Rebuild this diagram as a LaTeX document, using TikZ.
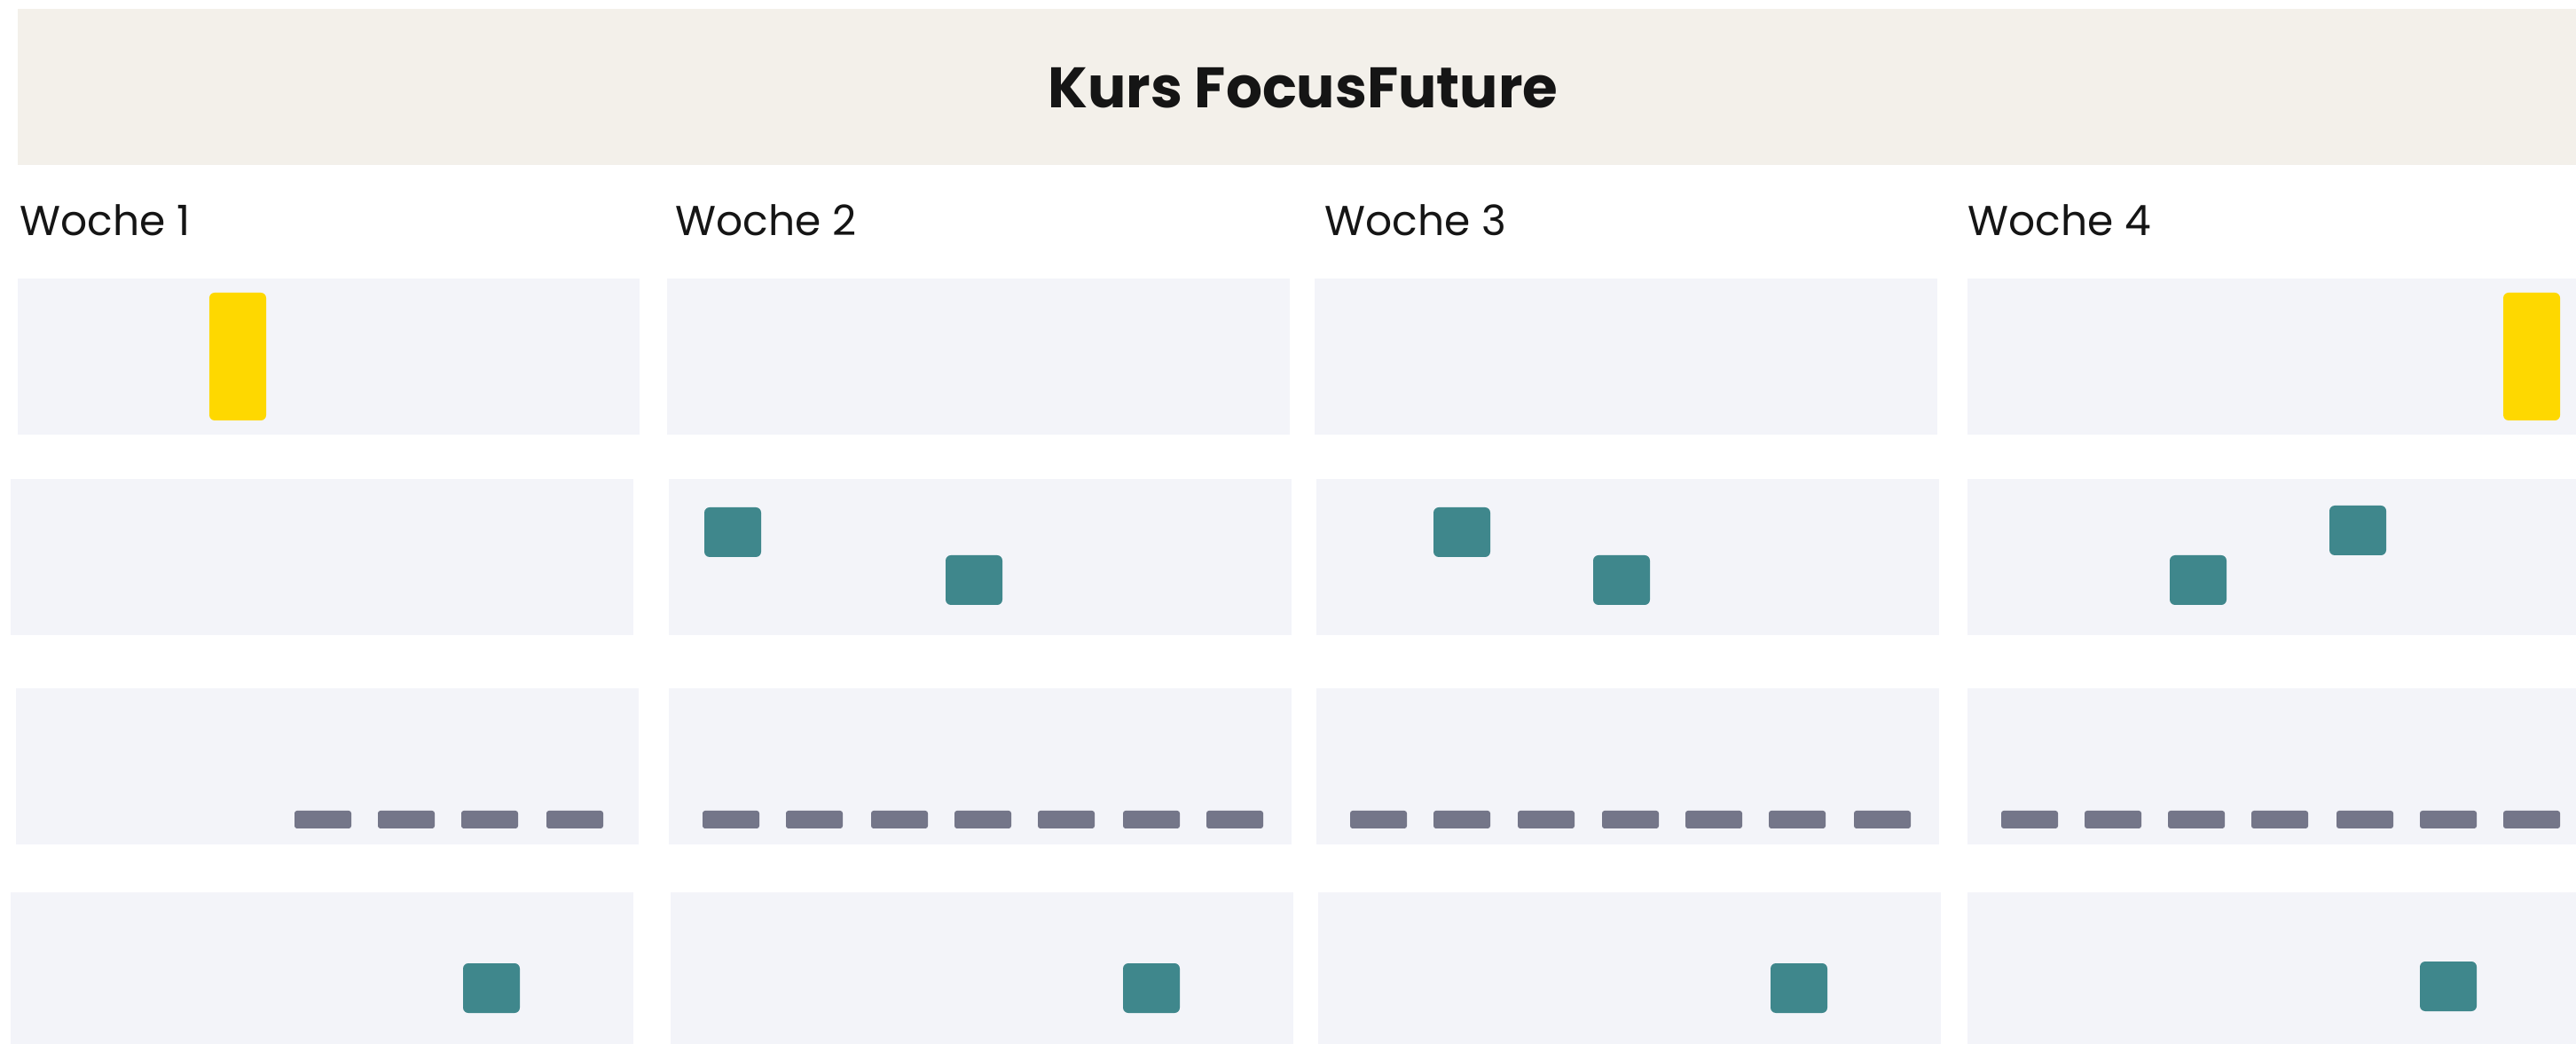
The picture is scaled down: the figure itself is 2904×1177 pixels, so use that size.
\documentclass[tikz,border=0pt]{standalone}
\usepackage{fontspec}
\setmainfont{Poppins}
\definecolor{hdr}{HTML}{F3F0EA}
\definecolor{pnl}{HTML}{F3F4F9}
\definecolor{tealc}{HTML}{3F878C}
\definecolor{dashc}{HTML}{747689}
\definecolor{yel}{HTML}{FED800}
\definecolor{txt}{HTML}{151515}
\begin{document}
\begin{tikzpicture}[x=0.01cm,y=-0.01cm,
 panel/.style={fill=pnl},
 tealblk/.style={fill=tealc,rounded corners=1.7pt},
 dashblk/.style={fill=dashc,rounded corners=0.8pt},
 yelblk/.style={fill=yel,rounded corners=1.7pt},
 wk/.style={anchor=base west,inner sep=0,font=\fontsize{13.4}{15}\selectfont,text=txt}]
\fill[white] (0,0) rectangle (2904,1177);
\useasboundingbox (0,0) rectangle (2904,1177);
% header
\fill[hdr] (20,10) rectangle (2904,186);
\node[anchor=base,inner sep=0,font=\fontsize{18.3}{21}\selectfont\bfseries,text=txt] (title) at (1469,122) {Kurs FocusFuture};
% week labels
\node[wk] (w1) at (22,266) {Woche 1};
\node[wk] (w2) at (761,266) {Woche 2};
\node[wk] (w3) at (1493,266) {Woche 3};
\node[wk] (w4) at (2218,266) {Woche 4};
% row 1
\fill[panel] (20,314) rectangle (721,490);
\fill[panel] (752,314) rectangle (1454,490);
\fill[panel] (1482,314) rectangle (2184,490);
\fill[panel] (2218,314) rectangle (2904,490);
% row 2
\fill[panel] (12,540) rectangle (714,716);
\fill[panel] (754,540) rectangle (1456,716);
\fill[panel] (1484,540) rectangle (2186,716);
\fill[panel] (2218,540) rectangle (2904,716);
% row 3
\fill[panel] (18,776) rectangle (720,952);
\fill[panel] (754,776) rectangle (1456,952);
\fill[panel] (1484,776) rectangle (2186,952);
\fill[panel] (2218,776) rectangle (2904,952);
% row 4
\fill[panel] (12,1006) rectangle (714,1177);
\fill[panel] (756,1006) rectangle (1458,1177);
\fill[panel] (1486,1006) rectangle (2188,1177);
\fill[panel] (2218,1006) rectangle (2904,1177);
% yellow bars
\fill[yelblk] (236,330) rectangle (300,474);
\fill[yelblk] (2822,330) rectangle (2886,474);
% teal blocks row 2
\fill[tealblk] (794,572) rectangle ++(64,56);
\fill[tealblk] (1066,626) rectangle ++(64,56);
\fill[tealblk] (1616,572) rectangle ++(64,56);
\fill[tealblk] (1796,626) rectangle ++(64,56);
\fill[tealblk] (2446,626) rectangle ++(64,56);
\fill[tealblk] (2626,570) rectangle ++(64,56);
% teal blocks row 4
\fill[tealblk] (522,1086) rectangle ++(64,56);
\fill[tealblk] (1266,1086) rectangle ++(64,56);
\fill[tealblk] (1996,1086) rectangle ++(64,56);
\fill[tealblk] (2728,1084) rectangle ++(64,56);
% dashes row 3
\foreach \x in {332,426,520,616,
                792,886,982,1076,1170,1266,1360,
                1522,1616,1711,1806,1900,1994,2090,
                2256,2350,2444,2538,2634,2728,2822}
  \fill[dashblk] (\x,914) rectangle ++(64,20);
\end{tikzpicture}
\end{document}
